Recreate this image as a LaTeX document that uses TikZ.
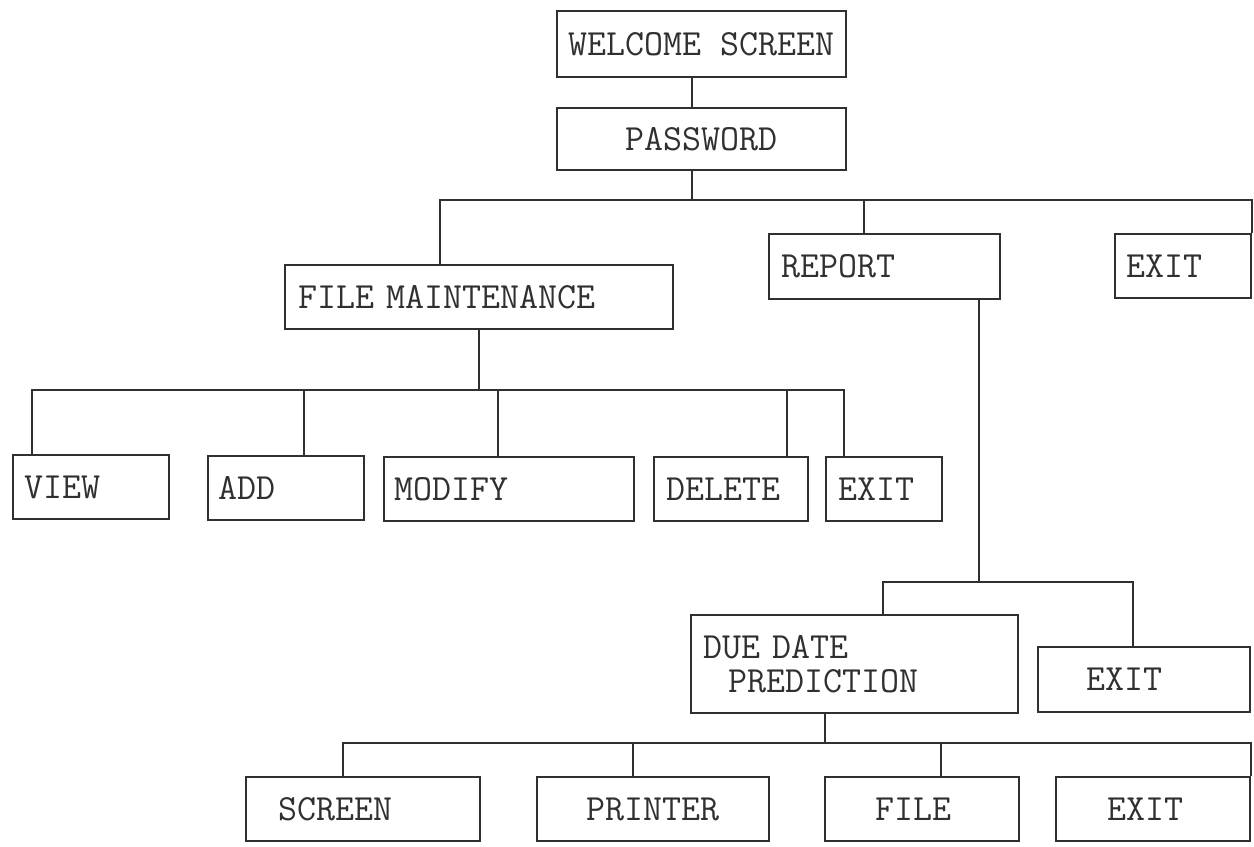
\documentclass[tikz,border=0pt]{standalone}
\usepackage{fontspec}
\usetikzlibrary{positioning}
\definecolor{cink}{HTML}{303030}
\newcommand\boxfont{\ttfamily\fontsize{21pt}{19pt}\selectfont}
\tikzset{
  every picture/.style={line width=1.3pt, draw=cink, text=cink},
  box/.style={draw=cink, anchor=north west, inner ysep=0pt, align=left, font=\boxfont},
  cbox/.style={box, inner xsep=0pt},
  link/.style={draw=cink, line width=1.3pt},
}

\begin{document}
\begin{tikzpicture}[x=0.02cm, y=-0.02cm]
  \useasboundingbox (0,0) rectangle (1254,846);
  % top of the menu tree
  \node[cbox, minimum width=5.78cm, minimum height=1.32cm] (welcome) at (556,10) {WELCOME SCREEN};
  \node[cbox, minimum width=5.78cm, minimum height=1.24cm] (pw) at (556,107) {PASSWORD};
  \node[box, text width=7.24cm, inner xsep=0.26cm, minimum height=1.28cm] (fm) at (284,264) {FILE MAINTENANCE};
  \node[box, text width=4.14cm, inner xsep=0.24cm, minimum height=1.30cm] (report) at (768,233) {REPORT};
  \node[box, text width=2.28cm, inner xsep=0.22cm, minimum height=1.28cm] (exitA) at (1114,233) {EXIT};
  % file maintenance menu
  \node[box, text width=2.68cm, inner xsep=0.22cm, minimum height=1.28cm] (view) at (12,454) {VIEW};
  \node[box, text width=2.72cm, inner xsep=0.20cm, minimum height=1.28cm] (add) at (207,455) {ADD};
  \node[box, text width=4.60cm, inner xsep=0.20cm, minimum height=1.28cm] (modify) at (383,456) {MODIFY};
  \node[box, text width=2.60cm, inner xsep=0.24cm, minimum height=1.28cm] (delete) at (653,456) {DELETE};
  \node[box, text width=1.84cm, inner xsep=0.24cm, minimum height=1.28cm] (exitB) at (825,456) {EXIT};
  % report menu
  \node[box, text width=6.06cm, inner xsep=0.24cm, minimum height=1.96cm] (due) at (690,614) {DUE DATE\\\hspace*{0.5cm}PREDICTION};
  \node[box, text width=2.32cm, inner xsep=0.96cm, minimum height=1.30cm] (exitC) at (1037,646) {EXIT};
  % output menu
  \node[box, text width=3.40cm, inner xsep=0.64cm, minimum height=1.28cm] (screen) at (245,776) {SCREEN};
  \node[cbox, minimum width=4.64cm, minimum height=1.28cm] (printer) at (536,776) {PRINTER};
  \node[box, text width=1.88cm, inner xsep=1.00cm, minimum height=1.28cm] (file) at (824,776) {FILE};
  \node[box, text width=1.84cm, inner xsep=1.02cm, minimum height=1.28cm] (exitD) at (1055,776) {EXIT};

  % bus junctions
  \coordinate (tW) at (692,200);
  \coordinate (tF) at (440,200);
  \coordinate (tR) at (864,200);
  \coordinate (mV) at (32,390);
  \coordinate (mA) at (304,390);
  \coordinate (mM) at (498,390);
  \coordinate (mD) at (787,390);
  \coordinate (mE) at (844,390);
  \coordinate (rB) at (979,582);
  \coordinate (dD) at (883,582);
  \coordinate (dE) at (1133,582);
  \coordinate (sD) at (825,743);
  \coordinate (sS) at (343,743);
  \coordinate (sP) at (633,743);
  \coordinate (sF) at (941,743);

  \draw[link] (tW |- welcome.south) -- (tW |- pw.north);
  \draw[link] (tW |- pw.south) -- (tW);
  \draw[link] (tF |- fm.north) -- (tF) -| (exitA.north east);
  \draw[link] (tR) -- (tR |- report.north);

  \draw[link] (fm.south) -- (fm.south |- mV);
  \draw[link] (mV |- view.north) -- (mV) -- (mE) -- (mE |- exitB.north);
  \draw[link] (mA) -- (mA |- add.north);
  \draw[link] (mM) -- (mM |- modify.north);
  \draw[link] (mD) -- (mD |- delete.north);

  \draw[link] (rB |- report.south) -- (rB);
  \draw[link] (dD |- due.north) -- (dD) -- (dE) -- (dE |- exitC.north);

  \draw[link] (sD |- due.south) -- (sD);
  \draw[link] (sS |- screen.north) -- (sS) -| (exitD.north east);
  \draw[link] (sP) -- (sP |- printer.north);
  \draw[link] (sF) -- (sF |- file.north);
\end{tikzpicture}
\end{document}
